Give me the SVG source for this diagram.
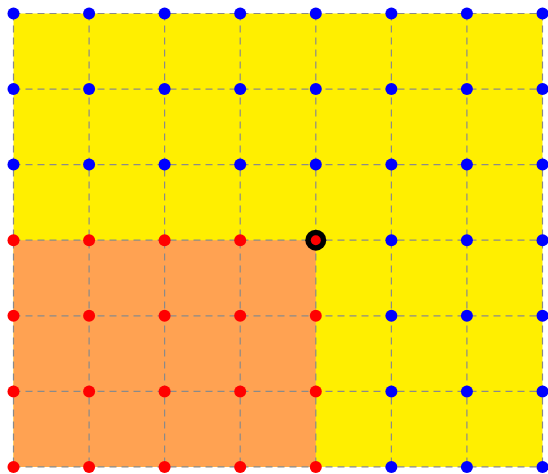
<svg xmlns="http://www.w3.org/2000/svg" width="548" height="474" viewBox="0 0 548 474">
<style>
.g{stroke:#8a8a8a;stroke-width:1.2;stroke-dasharray:7,5;fill:none}
.b{fill:#0000ff}
.r{fill:#ff0000}
</style>
<rect x="0" y="0" width="548" height="474" fill="#ffffff"/>
<rect x="13.5" y="13.5" width="529" height="453.4" fill="#ffef00"/>
<rect x="13.5" y="240.2" width="302.3" height="226.7" fill="#ffa252"/>
<g id="connectors">
<path class="g" d="M13.5 13.5V466.9M89.1 13.5V466.9M164.6 13.5V466.9M240.2 13.5V466.9M315.8 13.5V466.9M391.4 13.5V466.9M466.9 13.5V466.9M542.5 13.5V466.9"/>
<path class="g" d="M13.5 13.5H542.5M13.5 89.1H542.5M13.5 164.6H542.5M13.5 240.2H542.5M13.5 315.8H542.5M13.5 391.4H542.5M13.5 466.9H542.5"/>
</g>
<g id="blue">
<circle class="b" cx="13.5" cy="13.5" r="6"/><circle class="b" cx="89.1" cy="13.5" r="6"/><circle class="b" cx="164.6" cy="13.5" r="6"/><circle class="b" cx="240.2" cy="13.5" r="6"/><circle class="b" cx="315.8" cy="13.5" r="6"/><circle class="b" cx="391.4" cy="13.5" r="6"/><circle class="b" cx="466.9" cy="13.5" r="6"/><circle class="b" cx="542.5" cy="13.5" r="6"/>
<circle class="b" cx="13.5" cy="89.1" r="6"/><circle class="b" cx="89.1" cy="89.1" r="6"/><circle class="b" cx="164.6" cy="89.1" r="6"/><circle class="b" cx="240.2" cy="89.1" r="6"/><circle class="b" cx="315.8" cy="89.1" r="6"/><circle class="b" cx="391.4" cy="89.1" r="6"/><circle class="b" cx="466.9" cy="89.1" r="6"/><circle class="b" cx="542.5" cy="89.1" r="6"/>
<circle class="b" cx="13.5" cy="164.6" r="6"/><circle class="b" cx="89.1" cy="164.6" r="6"/><circle class="b" cx="164.6" cy="164.6" r="6"/><circle class="b" cx="240.2" cy="164.6" r="6"/><circle class="b" cx="315.8" cy="164.6" r="6"/><circle class="b" cx="391.4" cy="164.6" r="6"/><circle class="b" cx="466.9" cy="164.6" r="6"/><circle class="b" cx="542.5" cy="164.6" r="6"/>
<circle class="b" cx="391.4" cy="240.2" r="6"/><circle class="b" cx="466.9" cy="240.2" r="6"/><circle class="b" cx="542.5" cy="240.2" r="6"/>
<circle class="b" cx="391.4" cy="315.8" r="6"/><circle class="b" cx="466.9" cy="315.8" r="6"/><circle class="b" cx="542.5" cy="315.8" r="6"/>
<circle class="b" cx="391.4" cy="391.4" r="6"/><circle class="b" cx="466.9" cy="391.4" r="6"/><circle class="b" cx="542.5" cy="391.4" r="6"/>
<circle class="b" cx="391.4" cy="466.9" r="6"/><circle class="b" cx="466.9" cy="466.9" r="6"/><circle class="b" cx="542.5" cy="466.9" r="6"/>
</g>
<g id="red">
<circle class="r" cx="13.5" cy="240.2" r="6"/><circle class="r" cx="89.1" cy="240.2" r="6"/><circle class="r" cx="164.6" cy="240.2" r="6"/><circle class="r" cx="240.2" cy="240.2" r="6"/>
<circle class="r" cx="13.5" cy="315.8" r="6"/><circle class="r" cx="89.1" cy="315.8" r="6"/><circle class="r" cx="164.6" cy="315.8" r="6"/><circle class="r" cx="240.2" cy="315.8" r="6"/><circle class="r" cx="315.8" cy="315.8" r="6"/>
<circle class="r" cx="13.5" cy="391.4" r="6"/><circle class="r" cx="89.1" cy="391.4" r="6"/><circle class="r" cx="164.6" cy="391.4" r="6"/><circle class="r" cx="240.2" cy="391.4" r="6"/><circle class="r" cx="315.8" cy="391.4" r="6"/>
<circle class="r" cx="13.5" cy="466.9" r="6"/><circle class="r" cx="89.1" cy="466.9" r="6"/><circle class="r" cx="164.6" cy="466.9" r="6"/><circle class="r" cx="240.2" cy="466.9" r="6"/><circle class="r" cx="315.8" cy="466.9" r="6"/>
</g>
<g id="corner">
<circle cx="315.8" cy="240.2" r="10.5" fill="#000000"/>
<circle class="r" cx="315.8" cy="240.2" r="5"/>
</g>
</svg>
